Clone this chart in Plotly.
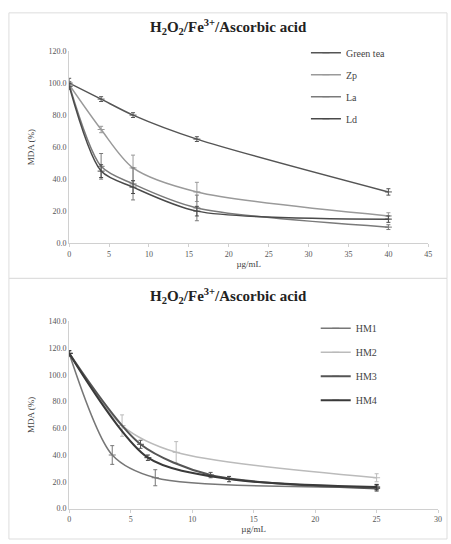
import plotly.graph_objects as go

# ---- Top chart data ----
top_x = [0, 4, 8, 16, 40]
green_tea = [100, 90, 80, 65, 32]
green_tea_err = [3, 1.5, 1.5, 1.5, 2]
zp = [99, 71, 47, 32, 17]
zp_err = [2, 2, 8, 6, 2]
la = [99, 48, 37, 22, 10]
la_err = [2, 8, 10, 8, 1.5]
ld = [98, 45, 35, 20, 15]
ld_err = [2, 4, 4, 3, 2]

# ---- Bottom chart data ----
hm1_x = [0, 3.5, 7, 25]
hm1 = [116, 40, 23, 16]
hm1_err = [2, 7, 6, 2]
hm2_x = [0, 4.3, 8.7, 25]
hm2 = [116, 62, 42, 23]
hm2_err = [2, 8, 8, 3]
hm3_x = [0, 5.8, 11.5, 25]
hm3 = [116, 48, 25, 15]
hm3_err = [2, 3, 2, 2]
hm4_x = [0, 6.4, 13, 25]
hm4 = [116, 38, 22, 16]
hm4_err = [2, 2, 2, 2]

SERIF = "Liberation Serif"

fig = go.Figure()

def add(x, y, err, name, color, width, xa, ya, legend):
    fig.add_trace(go.Scatter(
        x=x, y=y, name=name, mode="lines+markers",
        line=dict(color=color, width=width, shape="spline", smoothing=0.8),
        marker=dict(symbol="line-ew", size=5, line=dict(color=color, width=1)),
        error_y=dict(type="data", array=err, color=color, thickness=1, width=2),
        xaxis=xa, yaxis=ya, legend=legend, legendgroup=name,
    ))

add(top_x, green_tea, green_tea_err, "Green tea", "#555555", 1.5, "x", "y", "legend")
add(top_x, zp, zp_err, "Zp", "#9a9a9a", 1.5, "x", "y", "legend")
add(top_x, la, la_err, "La", "#7a7a7a", 1.5, "x", "y", "legend")
add(top_x, ld, ld_err, "Ld", "#4a4a4a", 1.5, "x", "y", "legend")

add(hm1_x, hm1, hm1_err, "HM1", "#777777", 1.5, "x2", "y2", "legend2")
add(hm2_x, hm2, hm2_err, "HM2", "#bbbbbb", 1.5, "x2", "y2", "legend2")
add(hm3_x, hm3, hm3_err, "HM3", "#555555", 2, "x2", "y2", "legend2")
add(hm4_x, hm4, hm4_err, "HM4", "#3a3a3a", 2, "x2", "y2", "legend2")

axis_font = dict(family=SERIF, size=8, color="#555555")
common_x = dict(showgrid=False, zeroline=False, showline=True, linecolor="#d0d0d0",
                ticks="outside", ticklen=3, tickcolor="#d0d0d0", tickfont=axis_font,
                title_font=dict(family=SERIF, size=9, color="#444444"), title_standoff=2)
common_y = dict(showgrid=False, zeroline=False, showline=True, linecolor="#d0d0d0",
                ticks="", tickfont=axis_font, tickformat=".1f",
                title_font=dict(family=SERIF, size=9, color="#444444"), title_standoff=12)

title_txt = "<b>H<sub>2</sub>O<sub>2</sub>/Fe<sup>3+</sup>/Ascorbic acid</b>"

fig.update_layout(
    width=451, height=544,
    margin=dict(l=0, r=0, t=0, b=0),
    paper_bgcolor="white", plot_bgcolor="white",
    font=dict(family=SERIF, color="#333333"),
    showlegend=True,
    xaxis=dict(domain=[0.151, 0.958], range=[0, 45], dtick=5, title_text="µg/mL",
               anchor="y", **common_x),
    yaxis=dict(domain=[0.553, 0.912], range=[0, 120], dtick=20, title_text="MDA (%)",
               anchor="x", **common_y),
    xaxis2=dict(domain=[0.151, 0.980], range=[0, 30], dtick=5, title_text="µg/mL",
                anchor="y2", **common_x),
    yaxis2=dict(domain=[0.057, 0.407], range=[0, 140], dtick=20, title_text="MDA (%)",
                anchor="x2", **common_y),
    legend=dict(x=0.683, y=0.936, xanchor="left", yanchor="top", bgcolor="rgba(0,0,0,0)",
                font=dict(family=SERIF, size=10, color="#444444"),
                itemwidth=30, tracegroupgap=3),
    legend2=dict(x=0.705, y=0.421, xanchor="left", yanchor="top", bgcolor="rgba(0,0,0,0)",
                 font=dict(family=SERIF, size=10, color="#444444"),
                 itemwidth=30, tracegroupgap=5),
    annotations=[
        dict(text=title_txt, x=0.51, y=1 - 23 / 544, xref="paper", yref="paper",
             xanchor="center", yanchor="middle",
             showarrow=False, font=dict(family=SERIF, size=15, color="#222222")),
        dict(text=title_txt, x=0.51, y=1 - 297 / 544, xref="paper", yref="paper",
             xanchor="center", yanchor="middle",
             showarrow=False, font=dict(family=SERIF, size=15, color="#222222")),
    ],
    shapes=[
        dict(type="rect", xref="paper", yref="paper", x0=7 / 451, x1=1.0,
             y0=1 - 279 / 544, y1=1 - 9 / 544, line=dict(color="#dddddd", width=1)),
        dict(type="rect", xref="paper", yref="paper", x0=7 / 451, x1=1.0,
             y0=0, y1=1 - 279 / 544, line=dict(color="#dddddd", width=1)),
    ],
)

fig.write_html("out.html", config={"displayModeBar": False},
               post_script="document.body.style.margin='0';")
